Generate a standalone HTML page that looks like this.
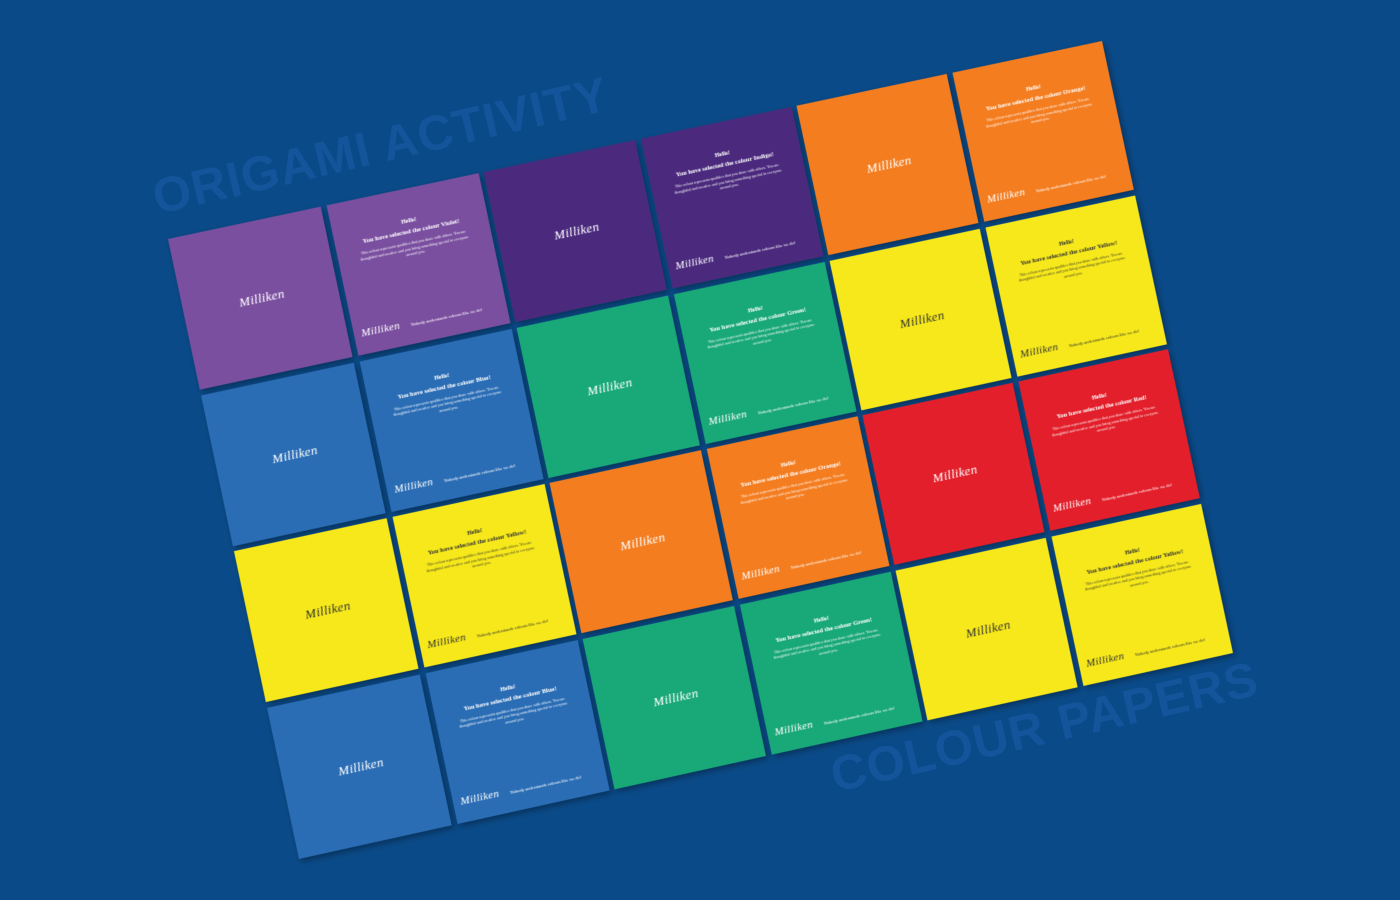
<!DOCTYPE html>
<html><head><meta charset="utf-8"><style>
html,body{margin:0;padding:0;width:1400px;height:900px;overflow:hidden;background:#0a4a88;font-family:"Liberation Sans",sans-serif}
.grid{position:absolute;left:0;top:0;transform-origin:0 0;width:958px;height:637px}
.sq{position:absolute;width:155px;height:155px;box-shadow:2px 3px 6px rgba(0,0,0,.35);color:#fff;font-family:"Liberation Serif",serif;overflow:hidden}
.logo{position:absolute;font-family:"Liberation Serif",serif;font-style:italic;font-size:13px;letter-spacing:.3px}
.plain .logo{left:56px;top:70px}
.txt .logo{left:8px;top:128px;font-size:11px}
.h{position:absolute;top:30px;left:0;width:155px;text-align:center;font-size:6px;font-weight:bold}
.s{position:absolute;top:40px;left:0;width:155px;text-align:center;font-size:6.5px;font-weight:bold}
.p{position:absolute;top:52px;left:22px;width:111px;text-align:center;font-size:4px;line-height:5.5px;opacity:.9}
.f{position:absolute;top:133px;left:58px;font-size:4.5px}
.dark{color:#333}
.v{background:#7b4fa0}.i{background:#4b2a7e}.o{background:#f47d20}.b{background:#2a6db5}.g{background:#19a878}.y{background:#f6e81a}.r{background:#e21f2a}
.big{position:absolute;font-weight:bold;font-size:49px;color:#14549a;transform-origin:0 100%;transform:rotate(-13deg);white-space:nowrap;letter-spacing:1px}
</style></head><body>
<div class="big" style="left:160px;top:170px">ORIGAMI ACTIVITY</div>
<div class="big" style="left:838px;top:748px">COLOUR PAPERS</div>
<div class="grid" id="g"></div>
<script>
var rows=[["v","i","o"],["b","g","y"],["y","o","r"],["b","g","y"]];
var names={v:"Violet",i:"Indigo",o:"Orange",b:"Blue",g:"Green",y:"Yellow",r:"Red"};
var h="";
rows.forEach(function(row,ri){row.forEach(function(c,ci){
 for(var k=0;k<2;k++){
  var x=(ci*2+k)*160.5, y=ri*160.5, d=(c=="y")?" dark":"";
  if(k==0) h+='<div class="sq plain '+c+d+'" style="left:'+x+'px;top:'+y+'px"><div class="logo">Milliken</div></div>';
  else h+='<div class="sq txt '+c+d+'" style="left:'+x+'px;top:'+y+'px"><div class="h">Hello!</div><div class="s">You have selected the colour '+names[c]+'!</div><div class="p">This colour represents qualities that you share with others. You are thoughtful and creative and you bring something special to everyone around you.</div><div class="logo">Milliken</div><div class="f">Nobody understands colours like we do!</div></div>';
 }
});});
var g=document.getElementById("g");g.innerHTML=h;
var W=958,H=637;
var src=[[0,0],[W,0],[W,H],[0,H]],dst=[[168,239],[1102,41],[1233,653],[299,859]];
var A=[],B=[];
for(var i=0;i<4;i++){var X=src[i][0],Y=src[i][1],u=dst[i][0],v=dst[i][1];
A.push([X,Y,1,0,0,0,-u*X,-u*Y]);B.push(u);
A.push([0,0,0,X,Y,1,-v*X,-v*Y]);B.push(v);}
for(var c=0;c<8;c++){var p=c;for(var r=c+1;r<8;r++)if(Math.abs(A[r][c])>Math.abs(A[p][c]))p=r;
var t=A[c];A[c]=A[p];A[p]=t;t=B[c];B[c]=B[p];B[p]=t;
for(var r=0;r<8;r++){if(r==c)continue;var f=A[r][c]/A[c][c];for(var k=c;k<8;k++)A[r][k]-=f*A[c][k];B[r]-=f*B[c];}}
var s=[];for(var i=0;i<8;i++)s.push(B[i]/A[i][i]);
g.style.transform="matrix3d("+[s[0],s[3],0,s[6],s[1],s[4],0,s[7],0,0,1,0,s[2],s[5],0,1].join(",")+")";
</script>
</body></html>
